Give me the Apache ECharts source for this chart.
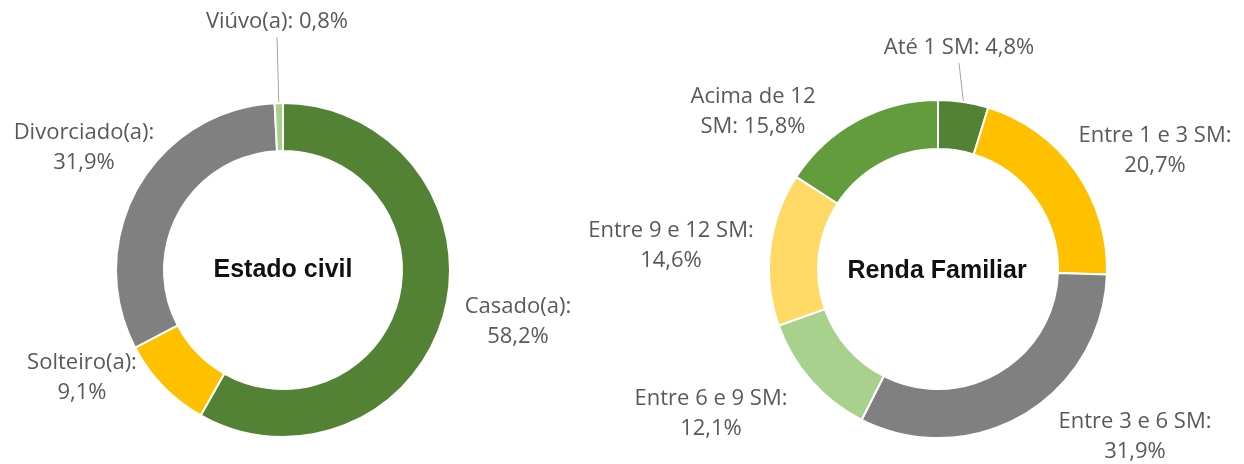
<!doctype html>
<html>
  <head>
    <meta charset="utf-8">
    <title>Estado civil e Renda Familiar</title>
    <script src="https://cdn.jsdelivr.net/npm/echarts@6/dist/echarts.min.js"></script>
    <style>
      html, body { margin: 0; padding: 0; background: #fff; }
      #main { width: 1244px; height: 464px; }
    </style>
  </head>
  <body>
    <div id="main"></div>

    <script type="text/javascript">
      // dados
      var civilNomes = ['Casado(a)', 'Solteiro(a)', 'Divorciado(a)', 'Viúvo(a)'];
      var civilValores = [58.2, 9.1, 31.9, 0.8];
      var civilCores = ['#548235', '#ffc000', '#808080', '#a9d18e'];

      var rendaNomes = ['Até 1 SM', 'Entre 1 e 3 SM', 'Entre 3 e 6 SM', 'Entre 6 e 9 SM', 'Entre 9 e 12 SM', 'Acima de 12\nSM'];
      var rendaValores = [4.8, 20.7, 31.9, 12.1, 14.6, 15.8];
      var rendaCores = ['#548235', '#ffc000', '#808080', '#a9d18e', '#ffd966', '#629c3d'];

      // quebra entre nome e valor (' ' = mesma linha)
      var civilQuebra = ['\n', '\n', '\n', ' '];
      var rendaQuebra = [' ', '\n', '\n', '\n', '\n', ' '];

      // posicao dos rotulos (centro do bloco de texto)
      var civilPos = [[518, 322], [82, 378], [84, 148], [277, 22]];
      var rendaPos = [[959, 48], [1155, 151], [1135, 437], [711, 414], [671, 246], [753, 112]];

      var myChart = echarts.init(document.getElementById('main'));

      function montaDados(nomes, valores, cores, quebra, comLinha) {
        return nomes.map(function (n, i) {
          return {
            name: n,
            value: valores[i],
            quebra: quebra[i],
            itemStyle: { color: cores[i] },
            labelLine: { show: comLinha[i] }
          };
        });
      }

      function fmt(params) {
        var q = params.data.quebra;
        return params.name + ':' + q + params.value.toFixed(1).replace('.', ',') + '%';
      }

      var rotulo = {
        show: true,
        position: 'outside',
        formatter: fmt,
        color: '#595959',
        fontFamily: 'Open Sans',
        fontSize: 22,
        lineHeight: 30,
        align: 'center',
        overflow: 'none',
        edgeDistance: 0
      };

      var linha = {
        lineStyle: { color: '#a6a6a6', width: 1 },
        length: 10,
        length2: 0
      };

      function layoutDe(pos) {
        return function (params) {
          var p = pos[params.dataIndex];
          return { x: p[0], y: p[1], align: 'center', verticalAlign: 'middle' };
        };
      }

      var option = {
        animation: false,
        graphic: [
          {
            type: 'text',
            x: 283, y: 270,
            style: {
              text: 'Estado civil',
              textAlign: 'center',
              textVerticalAlign: 'middle',
              font: 'bold 25px "Liberation Sans", Arial, sans-serif',
              fill: '#111'
            }
          },
          {
            type: 'text',
            x: 937, y: 271,
            style: {
              text: 'Renda Familiar',
              textAlign: 'center',
              textVerticalAlign: 'middle',
              font: 'bold 25px "Liberation Sans", Arial, sans-serif',
              fill: '#111'
            }
          }
        ],
        series: [
          {
            name: 'Estado civil',
            type: 'pie',
            center: [283, 270],
            radius: [119, 167],
            startAngle: 90,
            clockwise: true,
            avoidLabelOverlap: false,
            itemStyle: { borderColor: '#fff', borderWidth: 2 },
            label: rotulo,
            labelLine: linha,
            labelLayout: layoutDe(civilPos),
            emphasis: { disabled: true },
            data: montaDados(civilNomes, civilValores, civilCores, civilQuebra, [false, false, false, true])
          },
          {
            name: 'Renda Familiar',
            type: 'pie',
            center: [938, 269],
            radius: [120, 169],
            startAngle: 90,
            clockwise: true,
            avoidLabelOverlap: false,
            itemStyle: { borderColor: '#fff', borderWidth: 2 },
            label: rotulo,
            labelLine: linha,
            labelLayout: layoutDe(rendaPos),
            emphasis: { disabled: true },
            data: montaDados(rendaNomes, rendaValores, rendaCores, rendaQuebra, [true, false, false, false, false, false])
          }
        ]
      };

      myChart.setOption(option);
    </script>
  </body>
</html>
